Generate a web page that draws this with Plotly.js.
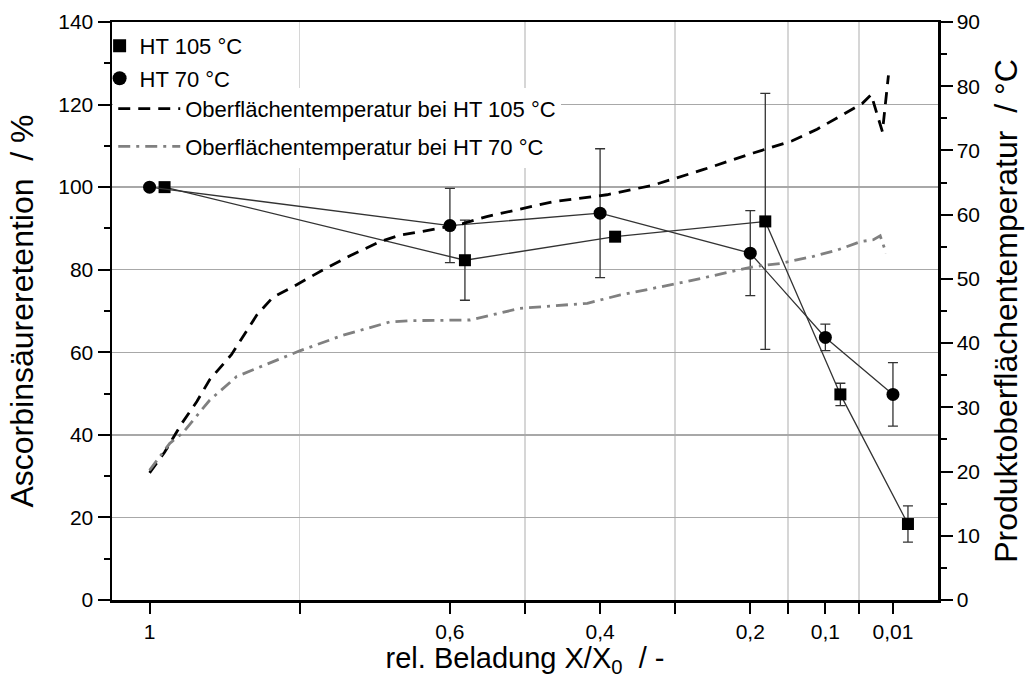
<!DOCTYPE html>
<html>
<head>
<meta charset="utf-8">
<script src="https://cdn.plot.ly/plotly-3.0.1.min.js"></script>
<style>
html,body{margin:0;padding:0;background:#fff;}
#chart{width:1030px;height:678px;}
</style>
</head>
<body>
<div id="chart"></div>
<script>
// ---- data ----
const xHT105 = [0.98, 0.58, 0.38, 0.18, 0.08, -0.01];
const yHT105 = [100, 82.3, 88.0, 91.7, 49.8, 18.4];
const eHT105 = [0, 9.7, 0, 31.0, 2.7, 4.4];

const xHT70 = [1, 0.6, 0.4, 0.2, 0.1, 0.01];
const yHT70 = [100, 90.7, 93.7, 84.0, 63.6, 49.8];
const eHT70 = [0, 9.0, 15.6, 10.3, 3.2, 7.7];

const xT105 = [1.0, 0.98, 0.957, 0.937, 0.92, 0.891, 0.857, 0.836, 0.804, 0.769, 0.733, 0.693, 0.667, 0.617, 0.583, 0.551, 0.463, 0.391, 0.329, 0.263, 0.196, 0.16, 0.144, 0.111, 0.08, 0.051, 0.039, 0.024, 0.016];
const yT105 = [19.8, 23.0, 27.5, 30.9, 34.3, 38.2, 44.4, 47.1, 49.1, 51.4, 53.6, 55.8, 56.8, 57.8, 58.6, 59.7, 62.0, 63.1, 64.6, 67.0, 69.6, 70.9, 71.5, 73.3, 75.3, 77.3, 78.7, 72.9, 81.7];

const xT70 = [1.0, 0.973, 0.956, 0.92, 0.884, 0.84, 0.8, 0.743, 0.68, 0.653, 0.573, 0.507, 0.417, 0.373, 0.284, 0.196, 0.16, 0.116, 0.084, 0.053, 0.036, 0.027, 0.019];
const yT70 = [20.2, 24.4, 26.0, 31.1, 34.8, 36.9, 38.8, 41.2, 43.3, 43.5, 43.6, 45.4, 46.2, 47.5, 49.6, 51.9, 52.4, 53.5, 54.5, 55.8, 56.1, 56.7, 54.0];

const xTickVals = [1, 0.6, 0.4, 0.2, 0.1, 0.01];
const xTickText = ['1', '0,6', '0,4', '0,2', '0,1', '0,01'];
const xMinorVals = [0.8, 0.5, 0.3, 0.15, 0.055];

const names = ['HT 105 °C', 'HT 70 °C', 'Oberflächentemperatur bei HT 105 °C', 'Oberflächentemperatur bei HT 70 °C'];

// ---- traces ----
const FONT = 'Liberation Sans, Arial, sans-serif';
const dataLine = {color: '#333333', width: 1.3};
const errStyle = {type: 'data', visible: true, color: '#333333', thickness: 1.3, width: 5};

const traces = [
  {x: xT105, y: yT105, yaxis: 'y2', mode: 'lines', name: names[2], legend: 'legend2', legendgroup: 'c',
   line: {color: '#000000', width: 2.8, dash: '12px,8px'}},
  {x: xT70, y: yT70, yaxis: 'y2', mode: 'lines', name: names[3], legend: 'legend2', legendgroup: 'd',
   line: {color: '#808080', width: 2.8, dash: '12px,6px,3px,6px'}},
  {x: xHT105, y: yHT105, mode: 'lines+markers', name: names[0], showlegend: false,
   line: dataLine, marker: {symbol: 'square', size: 12, color: '#000000'},
   error_y: Object.assign({array: eHT105}, errStyle)},
  {x: xHT70, y: yHT70, mode: 'lines+markers', name: names[1], showlegend: false,
   line: dataLine, marker: {symbol: 'circle', size: 13, color: '#000000'},
   error_y: Object.assign({array: eHT70}, errStyle)},
  // legend-only entries (marker symbols only, as in the reference legend)
  {x: [null], y: [null], mode: 'markers', name: names[0], legend: 'legend', legendgroup: 'a',
   marker: {symbol: 'square', size: 13, color: '#000000'}},
  {x: [null], y: [null], mode: 'markers', name: names[1], legend: 'legend', legendgroup: 'b',
   marker: {symbol: 'circle', size: 14, color: '#000000'}}
];

const layout = {
  width: 1030, height: 678,
  margin: {l: 112, r: 92, t: 22, b: 78, pad: 0},
  paper_bgcolor: '#ffffff', plot_bgcolor: '#ffffff',
  font: {family: FONT, color: '#000000', size: 21},
  showlegend: true,
  xaxis: {
    range: [1.05, -0.05],
    tickmode: 'array', tickvals: xTickVals, ticktext: xTickText,
    ticks: 'outside', ticklen: 11, tickwidth: 2, tickcolor: '#000',
    showgrid: false, zeroline: false,
    showline: true, linewidth: 2.5, linecolor: '#000', mirror: true,
    tickfont: {size: 21},
    minor: {tickmode: 'array', tickvals: xMinorVals, ticks: 'outside', ticklen: 11, tickwidth: 2, tickcolor: '#000',
            showgrid: true, gridcolor: '#d6d6d6', gridwidth: 1.5},
    title: {text: 'rel. Beladung X/X<sub>0</sub>  / -', font: {size: 29}, standoff: 7}
  },
  yaxis: {
    range: [0, 140], tickmode: 'linear', tick0: 0, dtick: 20,
    ticks: 'outside', ticklen: 12, tickwidth: 2, tickcolor: '#000',
    showgrid: true, gridcolor: '#a8a8a8', gridwidth: 1.5, zeroline: false,
    showline: true, linewidth: 2.5, linecolor: '#000',
    tickfont: {size: 21},
    minor: {dtick: 10, ticks: 'outside', ticklen: 6, tickwidth: 2, tickcolor: '#000', showgrid: false},
    title: {text: 'Ascorbinsäureretention  / %', font: {size: 32}, standoff: 15}
  },
  yaxis2: {
    overlaying: 'y', side: 'right',
    range: [0, 90], tickmode: 'linear', tick0: 0, dtick: 10,
    ticks: 'outside', ticklen: 12, tickwidth: 2, tickcolor: '#000',
    showgrid: false, zeroline: false,
    showline: true, linewidth: 2.5, linecolor: '#000',
    tickfont: {size: 21},
    minor: {dtick: 5, ticks: 'outside', ticklen: 6, tickwidth: 2, tickcolor: '#000', showgrid: false},
    title: {text: 'Produktoberflächentemperatur  / °C', font: {size: 32}, standoff: 16}
  },
  legend: {
    x: -0.015, y: 0.995, xanchor: 'left', yanchor: 'top',
    bgcolor: 'rgba(0,0,0,0)', borderwidth: 0,
    font: {size: 22}, tracegroupgap: 1, itemwidth: 30
  },
  legend2: {
    x: 0.0015, y: 0.886, xanchor: 'left', yanchor: 'top',
    bgcolor: '#ffffff', borderwidth: 0,
    font: {size: 22}, tracegroupgap: 6, itemwidth: 62
  }
};

Plotly.newPlot('chart', traces, layout, {displayModeBar: false, staticPlot: true});
</script>
</body>
</html>
